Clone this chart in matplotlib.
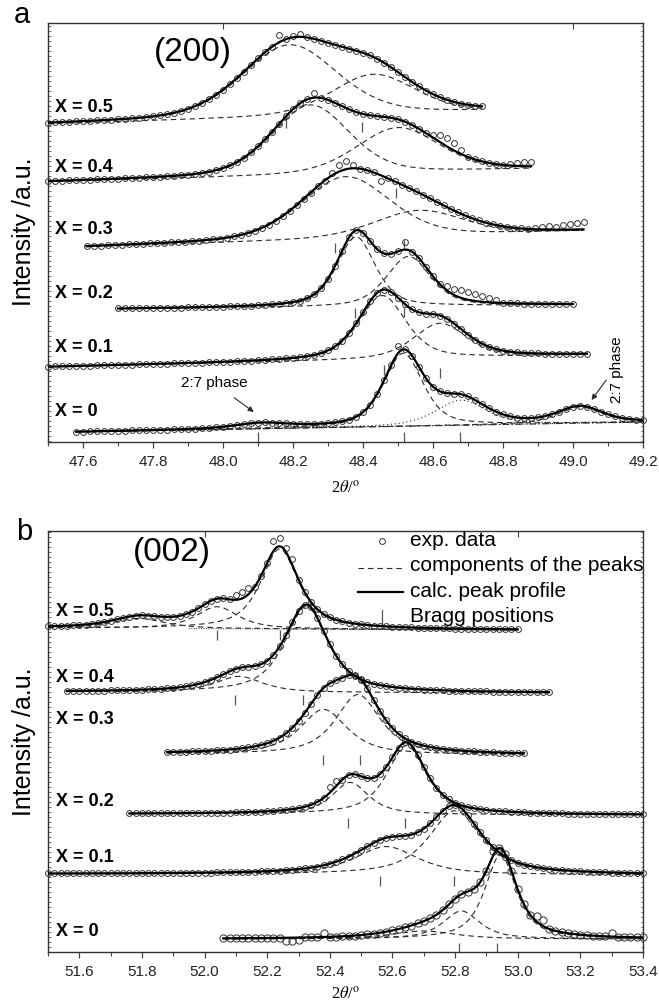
import numpy as np
import matplotlib
matplotlib.use('Agg')
import matplotlib.pyplot as plt
from matplotlib.ticker import MultipleLocator, FormatStrFormatter

plt.rcParams['font.family'] = ['Liberation Sans', 'DejaVu Sans']
plt.rcParams['mathtext.fontset'] = 'stix'

# ======================= panel a : (200) reflection =======================
a_labels = ['X = 0.5', 'X = 0.4', 'X = 0.3', 'X = 0.2', 'X = 0.1', 'X = 0']
a_start = [47.50, 47.50, 47.61, 47.70, 47.50, 47.58]      # first 2theta of each scan
a_end = [48.74, 48.88, 49.03, 49.00, 49.04, 49.20]        # last 2theta of each scan
a_step = 0.02
a_bg_start = [317, 259, 194, 132, 74, 9]                  # background (incl. stacking offset)
a_bg_end = [330, 272, 210, 136, 86, 19]
a_eta = [0.3, 0.3, 0.3, 0.5, 0.5, 0.5]                    # pseudo-Voigt mixing
a_pos = [[48.19, 48.43], [48.25, 48.50], [48.35, 48.56], [48.38, 48.53],
         [48.455, 48.62], [48.515, 48.68, 49.02, 48.11]]
a_height = [[72, 40], [70, 45], [62, 26], [70, 50], [64, 35], [73, 25, 16, 5]]
a_hwhm = [[0.16, 0.14], [0.13, 0.14], [0.15, 0.15], [0.065, 0.075],
          [0.08, 0.09], [0.066, 0.085, 0.075, 0.09]]
a_exp = [
    [318, 319, 319, 319, 320, 320, 320, 321, 321, 321, 322, 322, 323, 323, 324, 325, 326, 327, 328, 330,
     332, 335, 338, 342, 346, 351, 357, 363, 369, 376, 383, 389, 394, 406, 402, 405, 407, 404, 402, 400,
     398, 396, 394, 392, 390, 388, 386, 382, 378, 374, 369, 364, 359, 355, 350, 347, 344, 341, 339, 337,
     336, 335, 335],
    [260, 260, 260, 261, 261, 261, 261, 262, 262, 262, 262, 263, 263, 263, 264, 264, 264, 265, 265, 266,
     266, 267, 268, 269, 271, 273, 276, 279, 283, 289, 295, 302, 309, 317, 325, 332, 338, 342, 348, 343,
     341, 338, 335, 332, 329, 327, 326, 325, 324, 323, 322, 319, 316, 312, 308, 306, 306, 303, 298, 291,
     284, 282, 280, 278, 277, 276, 277, 278, 279, 279],
    [195, 195, 195, 196, 196, 196, 197, 197, 197, 198, 198, 198, 199, 199, 199, 200, 200, 201, 202, 202,
     203, 205, 206, 208, 210, 213, 216, 220, 225, 230, 236, 242, 248, 255, 260, 268, 276, 280, 276, 272,
     271, 269, 260, 263, 260, 256, 253, 250, 246, 243, 239, 236, 232, 229, 226, 223, 221, 218, 217, 215,
     214, 213, 213, 212, 213, 214, 215, 214, 216, 217, 218, 219],
    [133, 133, 133, 133, 133, 133, 133, 133, 133, 133, 134, 134, 134, 134, 134, 134, 135, 135, 135, 135,
     136, 136, 137, 137, 138, 139, 140, 143, 147, 153, 162, 175, 190, 204, 211, 208, 200, 192, 188, 187,
     190, 199, 189, 183, 174, 165, 157, 155, 152, 151, 149, 147, 145, 143, 141, 138, 138, 138, 137, 137,
     137, 137, 137, 137, 137, 137],
    [74, 75, 75, 75, 75, 75, 75, 76, 76, 76, 76, 76, 76, 77, 77, 77, 77, 77, 78, 78,
     78, 78, 78, 79, 79, 79, 79, 80, 80, 80, 81, 81, 82, 82, 83, 83, 84, 85, 86, 88,
     91, 95, 100, 108, 118, 129, 140, 148, 151, 149, 143, 137, 132, 129, 127, 127, 125, 122, 117, 112,
     106, 101, 97, 94, 92, 90, 89, 89, 88, 88, 88, 87, 87, 87, 87, 87, 87, 87],
    [9, 9, 10, 10, 10, 10, 10, 10, 11, 11, 11, 11, 11, 11, 12, 12, 12, 12, 13, 13,
     14, 14, 15, 16, 17, 18, 18, 19, 18, 18, 18, 17, 17, 17, 17, 17, 18, 19, 20, 21,
     24, 29, 36, 47, 61, 76, 95, 92, 85, 74, 63, 54, 50, 48, 47, 47, 45, 41, 37, 33,
     29, 27, 25, 23, 23, 23, 24, 25, 27, 29, 32, 34, 35, 34, 32, 29, 27, 25, 23, 22,
     21, 21],
]
a_bragg_x = [48.18, 48.398, 48.495, 48.32, 48.516, 48.378, 48.516, 48.459, 48.619, 48.10, 48.517, 48.677]
a_bragg_y = [318, 314, 248, 193, 196, 128, 129, 71, 68, 4, 4, 4]

# ======================= panel b : (002) reflection =======================
b_labels = ['X = 0.5', 'X = 0.4', 'X = 0.3', 'X = 0.2', 'X = 0.1', 'X = 0']
b_start = [51.50, 51.56, 51.88, 51.76, 51.50, 52.06]
b_end = [53.00, 53.10, 53.02, 53.40, 53.40, 53.40]
b_step = 0.02
b_bg_start = [324, 260, 198, 138, 78, 13]
b_bg_end = [322, 259, 197, 137, 77, 13]
b_eta = [0.75, 0.75, 0.75, 0.75, 0.75, 0.75]
b_pos = [[52.24, 52.04, 51.79], [52.325, 52.11], [52.49, 52.38], [52.645, 52.465],
         [52.80, 52.58], [52.945, 52.82, 52.70]]
b_height = [[80, 22, 10], [86, 16], [60, 45], [69, 32], [64, 28], [84, 28, 8]]
b_hwhm = [[0.072, 0.08, 0.10], [0.082, 0.09], [0.085, 0.09], [0.075, 0.07],
          [0.10, 0.12], [0.06, 0.07, 0.12]]
b_exp = [
    [326, 326, 326, 326, 327, 327, 327, 328, 329, 330, 331, 333, 334, 335, 336, 337, 336, 336, 335, 335,
     335, 336, 338, 340, 344, 348, 351, 353, 354, 353, 357, 360, 364, 365, 376, 389, 411, 414, 404, 393,
     372, 360, 350, 343, 338, 335, 332, 331, 329, 328, 328, 327, 326, 326, 326, 325, 325, 325, 325, 324,
     324, 324, 324, 324, 324, 323, 323, 323, 323, 323, 323, 323, 323, 323, 323, 323],
    [261, 261, 261, 261, 261, 261, 261, 262, 262, 262, 262, 262, 262, 263, 263, 263, 264, 264, 265, 266,
     267, 268, 270, 272, 275, 278, 281, 283, 285, 285, 286, 288, 291, 297, 306, 317, 330, 341, 347, 345,
     334, 321, 308, 296, 288, 281, 276, 273, 270, 268, 267, 266, 265, 264, 264, 263, 263, 262, 262, 262,
     262, 261, 261, 261, 261, 261, 261, 261, 260, 260, 260, 260, 260, 260, 260, 260, 260, 260],
    [200, 200, 200, 200, 201, 201, 201, 201, 202, 202, 202, 203, 204, 205, 206, 207, 209, 211, 214, 219,
     224, 231, 239, 248, 257, 264, 269, 272, 274, 277, 277, 272, 263, 252, 241, 232, 224, 218, 214, 210,
     208, 206, 205, 204, 203, 202, 202, 201, 201, 201, 200, 200, 200, 199, 199, 199, 199, 199],
    [139, 139, 139, 139, 139, 139, 139, 139, 139, 139, 139, 139, 139, 139, 139, 139, 139, 140, 140, 140,
     140, 140, 141, 141, 142, 142, 143, 144, 145, 147, 150, 154, 165, 171, 172, 177, 178, 176, 174, 174,
     178, 185, 195, 204, 210, 207, 197, 185, 174, 164, 157, 153, 149, 147, 145, 144, 143, 142, 141, 141,
     141, 140, 140, 140, 139, 139, 139, 139, 139, 139, 138, 138, 138, 138, 138, 138, 138, 138, 138, 138,
     138, 138, 138],
    [79, 79, 79, 79, 79, 79, 79, 79, 79, 79, 79, 79, 79, 79, 79, 79, 79, 79, 79, 79,
     79, 79, 79, 79, 79, 79, 79, 80, 80, 80, 80, 80, 80, 80, 81, 81, 81, 81, 82, 82,
     83, 84, 84, 85, 87, 88, 90, 93, 95, 98, 102, 106, 109, 112, 114, 115, 116, 116, 117, 120,
     123, 129, 135, 141, 146, 147, 144, 137, 128, 120, 112, 105, 100, 95, 92, 89, 87, 86, 85, 84,
     83, 82, 82, 81, 81, 81, 80, 80, 80, 80, 79, 79, 79, 79, 79, 79],
    [14, 14, 14, 14, 14, 14, 14, 14, 14, 14, 11, 11, 12, 15, 15, 15, 19, 15, 15, 16,
     16, 16, 17, 18, 18, 19, 20, 22, 23, 25, 26, 29, 31, 34, 37, 42, 48, 53, 58, 60,
     63, 70, 81, 101, 104, 98, 81, 63, 48, 37, 36, 32, 23, 21, 20, 19, 18, 17, 17, 16,
     16, 16, 19, 15, 15, 15, 15, 15],
]
b_bragg_x = [52.04, 52.24, 52.097, 52.315, 52.377, 52.497, 52.458, 52.639, 52.559, 52.798, 52.814, 52.934]
b_bragg_y = [317, 317, 252, 252, 192, 192, 129, 129, 71, 71, 4, 4]


def pv(x, c, h, w, eta):
    r2 = ((x - c) / w) ** 2
    return h * (eta / (1 + r2) + (1 - eta) * np.exp(-np.log(2) * r2))


dark = '#2a2a2a'
fig = plt.figure(figsize=(6.59, 10.07), dpi=100)
ax_a = fig.add_axes([48 / 659, 1 - 442 / 1007, 595 / 659, 419 / 1007])
ax_b = fig.add_axes([48 / 659, 1 - 952 / 1007, 595 / 659, 421 / 1007])


def draw(ax, start, end, step, bg0, bg1, eta, pos, height, hwhm, exp, dotted, msize):
    for i in range(len(start)):
        xx = np.linspace(start[i], end[i], 800)
        bg = bg0[i] + (bg1[i] - bg0[i]) * (xx - start[i]) / (end[i] - start[i])
        total = bg.copy()
        for j, (c, h, w) in enumerate(zip(pos[i], height[i], hwhm[i])):
            comp = pv(xx, c, h, w, eta[i])
            total = total + comp
            dash = (1, 2.5) if (i, j) in dotted else (5, 3.5)
            ax.plot(xx, bg + comp, color=dark, lw=0.8, dashes=dash, zorder=2)
        xe = start[i] + step * np.arange(len(exp[i]))
        ax.plot(xe, exp[i], 'o', ms=msize[i], mfc='none', mec='#333333', mew=0.7,
                clip_on=False, zorder=3)
        ax.plot(xx, total, color='black', lw=1.6, zorder=4)


draw(ax_a, a_start, a_end, a_step, a_bg_start, a_bg_end, a_eta, a_pos, a_height, a_hwhm, a_exp,
     {(5, 1), (5, 3)}, [4.2] * 6)
draw(ax_b, b_start, b_end, b_step, b_bg_start, b_bg_end, b_eta, b_pos, b_height, b_hwhm, b_exp,
     set(), [4.2] * 5 + [5.2])

# backgrounds shown as lines
xx = np.linspace(a_start[5], a_end[5], 300)
ax_a.plot(xx, a_bg_start[5] + (a_bg_end[5] - a_bg_start[5]) * (xx - a_start[5]) / (a_end[5] - a_start[5]),
          color=dark, lw=0.8, dashes=(6, 2.5, 1, 2.5))
xx = np.linspace(51.95, b_end[0], 300)
ax_b.plot(xx, b_bg_start[0] + (b_bg_end[0] - b_bg_start[0]) * (xx - b_start[0]) / (b_end[0] - b_start[0]),
          color=dark, lw=0.7, dashes=(1, 1.5))

# Bragg positions
for ax, bx, by in [(ax_a, a_bragg_x, a_bragg_y), (ax_b, b_bragg_x, b_bragg_y)]:
    ax.vlines(bx, np.array(by) - 5, np.array(by) + 5, color='#555555', lw=0.9)

# curve labels
a_label_y = [334, 273, 211, 148, 93, 29]
b_label_y = [341, 275, 232, 150, 94, 20]
for lab, y in zip(a_labels, a_label_y):
    ax_a.text(47.52, y, lab, fontsize=13, fontweight='bold', ha='left', va='center')
for lab, y in zip(b_labels, b_label_y):
    ax_b.text(51.524, y, lab, fontsize=13, fontweight='bold', ha='left', va='center')

ax_a.text(47.914, 389, '(200)', fontsize=24, ha='center', va='center')
ax_b.text(51.897, 400, '(002)', fontsize=24, ha='center', va='center')

ax_a.annotate('2:7 phase', xy=(48.088, 29), xytext=(47.974, 58), fontsize=11, ha='center', va='center',
              arrowprops=dict(arrowstyle='-|>', color=dark, lw=0.8, shrinkA=6, shrinkB=0,
                              mutation_scale=8))
ax_a.text(49.125, 71, '2:7 phase', fontsize=11, rotation=90, ha='center', va='center')
ax_a.annotate('', xy=(49.053, 41), xytext=(49.095, 61),
              arrowprops=dict(arrowstyle='-|>', color=dark, lw=0.8, shrinkA=0, shrinkB=0,
                              mutation_scale=8))

# legend (panel b), drawn in axes fractions
tr = ax_b.transAxes
ax_b.plot([0.561], [0.976], 'o', ms=4.2, mfc='none', mec='#333333', mew=0.7, transform=tr)
ax_b.plot([0.521, 0.597], [0.912, 0.912], color=dark, lw=0.8, dashes=(5, 3.5), transform=tr)
ax_b.plot([0.521, 0.597], [0.855, 0.855], color='black', lw=1.6, transform=tr)
ax_b.plot([0.561, 0.561], [0.780, 0.812], color='#555555', lw=0.9, transform=tr)
for txt, yb in [('exp. data', 0.964), ('components of the peaks', 0.905),
                ('calc. peak profile', 0.843), ('Bragg positions', 0.784)]:
    ax_b.text(0.608, yb, txt, fontsize=15, ha='left', va='baseline', transform=tr)

# axes styling
for ax, xl, top_ticks in [(ax_a, (47.5, 49.2), [48, 49]), (ax_b, (51.5, 53.4), [52, 53])]:
    ax.set_xlim(*xl)
    ax.xaxis.set_major_locator(MultipleLocator(0.2))
    ax.xaxis.set_minor_locator(MultipleLocator(0.1))
    ax.xaxis.set_major_formatter(FormatStrFormatter('%.1f'))
    ax.tick_params(axis='x', which='major', direction='out', length=4, width=0.9, color='#444444',
                   labelsize=11, pad=5, labelcolor='#222222')
    ax.tick_params(axis='x', which='minor', direction='out', length=3, width=0.8, color='#444444')
    ax.set_yticks([])
    ax.yaxis.set_minor_locator(MultipleLocator(5))
    ax.tick_params(axis='y', which='minor', direction='in', length=1.8, width=0.6, color='#555555',
                   left=True, right=True)
    for s in ax.spines.values():
        s.set_color('#333333')
        s.set_linewidth(1.0)
    sec = ax.secondary_xaxis('top')
    sec.set_xticks(top_ticks, labels=['', ''])
    sec.tick_params(direction='in', length=4, width=0.8, color='#444444')
    sec.spines['top'].set_visible(False)

ax_a.set_ylim(-1, 418)
ax_b.set_ylim(0, 421)

fig.text(14 / 659, 1 - 23 / 1007, 'a', fontsize=21, ha='left', va='baseline')
fig.text(16 / 659, 1 - 540 / 1007, 'b', fontsize=21, ha='left', va='baseline')
fig.text(24 / 659, 1 - 232 / 1007, 'Intensity /a.u.', fontsize=18, rotation=90, ha='center', va='center')
fig.text(24 / 659, 1 - 742 / 1007, 'Intensity /a.u.', fontsize=18, rotation=90, ha='center', va='center')
fig.text(345 / 659, 1 - 488 / 1007, r'2$\theta$/$^{\mathrm{o}}$', fontsize=12, ha='center', va='center',
         family='Liberation Serif')
fig.text(345 / 659, 1 - 994 / 1007, r'2$\theta$/$^{\mathrm{o}}$', fontsize=12, ha='center', va='center',
         family='Liberation Serif')

fig.savefig('out.png', dpi=100, facecolor='white')
